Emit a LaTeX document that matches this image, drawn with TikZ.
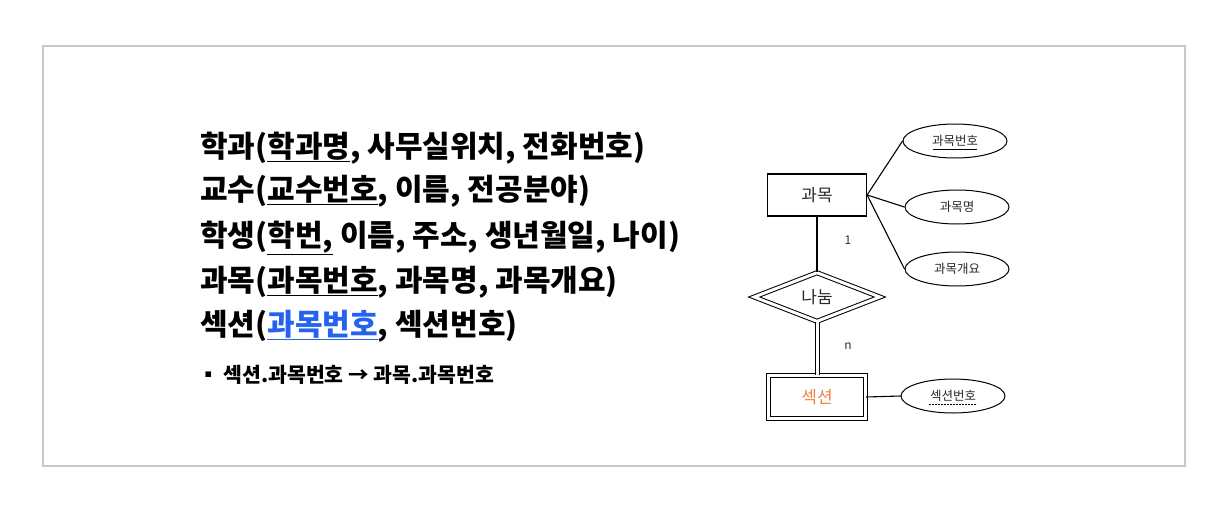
\documentclass[tikz,border=0pt]{standalone}
\usepackage{fontspec}
\setmainfont{Noto Sans CJK KR}
\usepackage{xcolor}
\usetikzlibrary{positioning,arrows.meta,calc,shapes.geometric}
\definecolor{framegray}{RGB}{200,200,200}
\definecolor{keyblue}{RGB}{38,98,240}
\definecolor{weakorange}{RGB}{240,128,64}
\definecolor{erink}{RGB}{40,40,40}
\definecolor{cardink}{RGB}{40,44,70}
\newcommand{\pk}[1]{\underline{#1}}

\begin{document}
\begin{tikzpicture}[x=1pt, y=-1pt,
  rel/.style={anchor=west, inner sep=0pt,
               font=\fontsize{30}{30}\selectfont\bfseries},
  fk/.style={anchor=west, inner sep=0pt,
               font=\fontsize{20.5}{20.5}\selectfont\bfseries},
  entbox/.style={draw, line width=1.2pt, minimum width=99pt,
               minimum height=42pt, font=\fontsize{17}{17}\selectfont,
               text=erink},
  weakbox/.style={draw, double, double distance=3pt, line width=1pt,
               minimum width=97pt, minimum height=43pt,
               font=\fontsize{17}{17}\selectfont, text=weakorange},
  relbox/.style={diamond, draw, double, double distance=3pt, line width=1pt,
               minimum width=126pt, minimum height=49pt, inner sep=0pt,
               font=\fontsize{17}{17}\selectfont, text=erink},
  attr/.style={ellipse, draw, line width=1pt, minimum width=104pt,
               minimum height=34pt, inner sep=0pt,
               font=\fontsize{12.5}{12.5}\selectfont, text=erink},
  card/.style={font=\fontsize{12}{12}\selectfont, text=cardink},
  link/.style={line width=1.1pt}
]
  \useasboundingbox (0,0) rectangle (1230,514);
  \draw[framegray, line width=1.5pt] (43,46) rectangle (1185,466);

  % relation schemas
  \node[rel] (r1) at (200,148) {학과(\pk{학과명}, 사무실위치, 전화번호)};
  \node[rel] (r2) at (200,191) {교수(\pk{교수번호}, 이름, 전공분야)};
  \node[rel] (r3) at (200,238) {학생(\pk{학번,} 이름, 주소, 생년월일, 나이)};
  \node[rel] (r4) at (200,282) {과목(\pk{과목번호}, 과목명, 과목개요)};
  \node[rel] (r5) at (200,326) {섹션(\textcolor{keyblue}{\pk{과목번호}}, 섹션번호)};
  \node[fk] (f1) at (198,375) {▪ 섹션.과목번호 → 과목.과목번호};

  % ER diagram
  \node[entbox] (course) at (817,195) {과목};
  \node[attr] (a1) at (955,141) {과목번호};
  \node[attr] (a2) at (957,207) {과목명};
  \node[attr] (a3) at (957,269) {과목개요};
  \node[relbox] (share) at (817,297) {나눔};
  \node[weakbox] (section) at (817,397) {섹션};
  \node[attr] (a4) at (953,396) {섹션번호};
  \node[card] (c1) at (848,240) {1};
  \node[card] (cn) at (848,346) {n};

  \draw[link] ([xshift=-22pt,yshift=-8.5pt]a1.center) -- ([xshift=22pt,yshift=-8.5pt]a1.center);
  \draw[link, dashed, dash pattern=on 2pt off 1pt]
    ([xshift=-24pt,yshift=-8.5pt]a4.center) -- ([xshift=24pt,yshift=-8.5pt]a4.center);

  \draw[link] (course.east) -- (a1.west);
  \draw[link] (course.east) -- (a2.west);
  \draw[link] (course.east) -- (a3.west);
  \draw[link] (course.south) -- (share.north);
  \draw[link, double, double distance=3pt, line width=1pt] (share.south) -- (section.north);
  \draw[link] (section.east) -- (a4.west);
\end{tikzpicture}
\end{document}
